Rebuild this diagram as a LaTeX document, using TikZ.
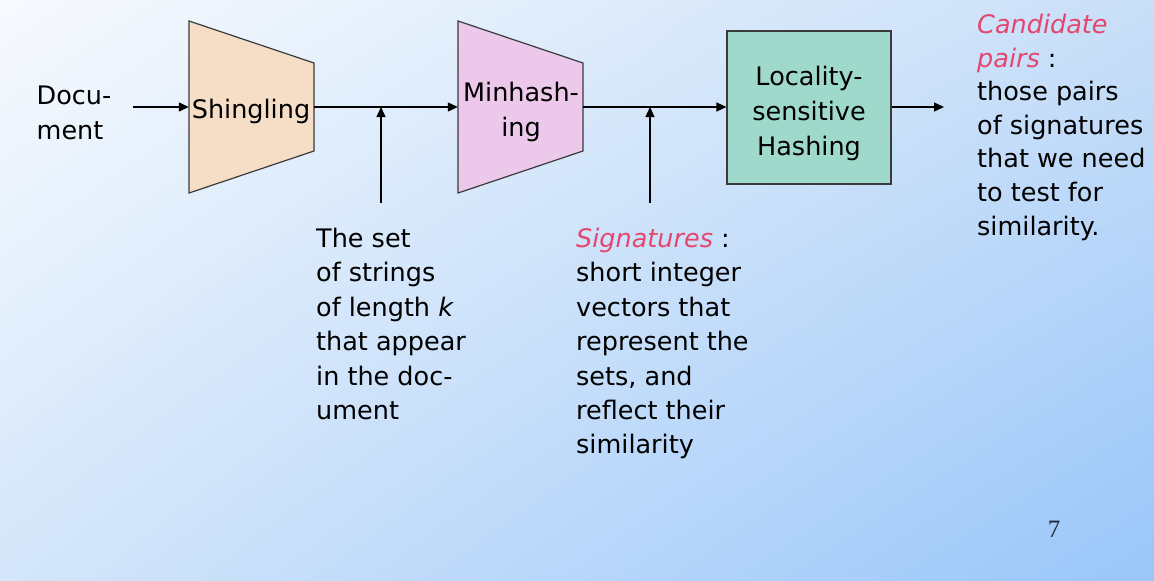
\documentclass[tikz,border=0pt]{standalone}
\usepackage{fontspec}
\setmainfont{DejaVu Sans}
\newfontfamily\pgnum{Liberation Serif}
\usetikzlibrary{arrows.meta,shadings}
\definecolor{bgTL}{HTML}{F7FAFE}
\definecolor{bgTR}{HTML}{C9DFF8}
\definecolor{bgBL}{HTML}{D4E6FA}
\definecolor{bgBR}{HTML}{99C6F9}
\definecolor{shfill}{HTML}{F6DEC6}
\definecolor{mhfill}{HTML}{ECC8EA}
\definecolor{lshfill}{HTML}{9FD9CB}
\definecolor{edge}{HTML}{3A3A3A}
\definecolor{hl}{HTML}{E4466E}
\definecolor{pgcol}{HTML}{1F2A3A}
\tikzset{
  arr/.style={draw=black, line width=1.3pt, -{Triangle[length=10pt,width=9pt]}},
  stagebox/.style={draw=edge, line width=1.2pt},
  boxlabel/.style={font=\fontsize{25.5}{35}\selectfont, align=center, inner sep=0pt, text=black},
  note/.style={font=\fontsize{25.5}{34.4}\selectfont, align=left, inner sep=0pt, anchor=north west, text=black},
  ghost/.style={inner sep=0pt, minimum width=125pt, minimum height=172pt}
}
\begin{document}
\begin{tikzpicture}[x=1pt,y=-1pt]
\useasboundingbox (0,0) rectangle (1154,581);
\shade[upper left=bgTL, upper right=bgTR, lower left=bgBL, lower right=bgBR] (0,0) rectangle (1154,581);

% Shingling trapezoid
\node[ghost] (shing) at (251.5,107) {};
\draw[stagebox, fill=shfill] (189,21) -- (314,63) -- (314,151) -- (189,193) -- cycle;
\node[boxlabel] (shinglbl) at (251,111) {Shingling};

% Minhashing trapezoid
\node[ghost] (minh) at (520.5,107) {};
\draw[stagebox, fill=mhfill] (458,21) -- (583,63) -- (583,151) -- (458,193) -- cycle;
\node[boxlabel] (minhlbl) at (521,112) {Minhash-\\ing};

% LSH box
\node[stagebox, fill=lshfill, minimum width=164pt, minimum height=153pt, inner sep=0pt] (lsh) at (809,107.5) {};
\node[boxlabel] (lshlbl) at (809,113) {Locality-\\sensitive\\Hashing};

% Document label
\node[boxlabel, align=left] (doc) at (74,113) {Docu-\\ment};

% Connectors
\coordinate (docout) at (133,107);
\draw[arr] (docout) -- (shing.west);
\draw[arr] (shing.east) -- (minh.west);
\draw[arr] (minh.east) -- (lsh.west |- minh.east);
\coordinate (out) at (944,107);
\draw[arr] (lsh.east |- out) -- (out);

\coordinate (j1) at (381,107);
\coordinate (t1) at (381,203);
\draw[arr] (t1) -- (j1);
\coordinate (j2) at (650,107);
\coordinate (t2) at (650,203);
\draw[arr] (t2) -- (j2);

% Notes
\node[note] (setnote) at (316,228) {The set\\of strings\\of length \textit{k}\\that appear\\in the doc-\\ument};
\node[note] (signote) at (576,228) {\textcolor{hl}{\textit{Signatures}} :\\short integer\\vectors that\\represent the\\sets, and\\reflect their\\similarity};
\node[note, font=\fontsize{25.5}{33.6}\selectfont] (candnote) at (977,14) {\textcolor{hl}{\textit{Candidate}}\\\textcolor{hl}{\textit{pairs}} :\\those pairs\\of signatures\\that we need\\to test for\\similarity.};

% Page number
\node[inner sep=0pt, font=\pgnum\fontsize{25}{28}\selectfont, text=pgcol] (pg) at (1054,529) {7};
\end{tikzpicture}
\end{document}
